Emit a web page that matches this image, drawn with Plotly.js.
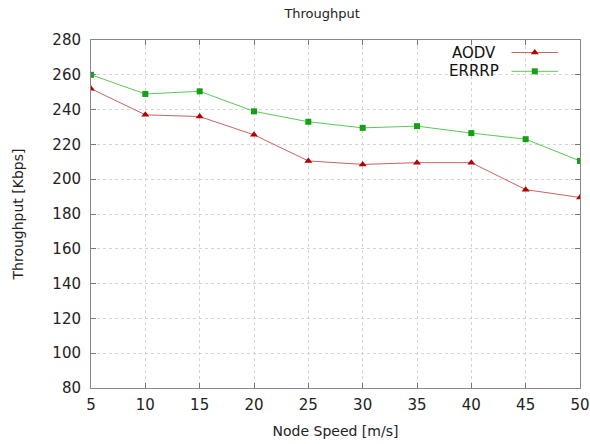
<!DOCTYPE html>
<html>
<head>
<meta charset="utf-8">
<script src="https://cdn.plot.ly/plotly-3.0.1.min.js"></script>
<style>html,body{margin:0;padding:0;background:#fff;}#chart{width:590px;height:444px;}</style>
</head>
<body>
<div id="chart"></div>
<script>
const speeds = [5, 10, 15, 20, 25, 30, 35, 40, 45, 50];
const aodv = [252, 237, 236, 225.5, 210.5, 208.5, 209.5, 209.5, 194, 189.5];
const errrp = [260, 249, 250.5, 239, 233, 229.5, 230.5, 226.5, 223, 210.5];
const seriesNames = ['AODV', 'ERRRP'];
const yTicks = [80, 100, 120, 140, 160, 180, 200, 220, 240, 260, 280];

const redLine = '#c86464', redMark = '#b40000';
const grnLine = '#5cc85c', grnMark = '#14a014';

const traces = [
  {x: speeds, y: aodv, name: seriesNames[0], mode: 'lines+markers',
   line: {color: redLine, width: 1}, marker: {symbol: 'triangle-up', size: 7, color: redMark}},
  {x: speeds, y: errrp, name: seriesNames[1], mode: 'lines+markers',
   line: {color: grnLine, width: 1}, marker: {symbol: 'square', size: 6, color: grnMark}},
  {x: [0.860, 0.955], y: [0.964, 0.964], xaxis: 'x2', yaxis: 'y2', mode: 'lines', showlegend: false,
   line: {color: redLine, width: 1}, hoverinfo: 'skip'},
  {x: [0.9075], y: [0.964], xaxis: 'x2', yaxis: 'y2', mode: 'markers', showlegend: false,
   marker: {symbol: 'triangle-up', size: 7, color: redMark}, hoverinfo: 'skip'},
  {x: [0.860, 0.955], y: [0.910, 0.910], xaxis: 'x2', yaxis: 'y2', mode: 'lines', showlegend: false,
   line: {color: grnLine, width: 1}, hoverinfo: 'skip'},
  {x: [0.9075], y: [0.910], xaxis: 'x2', yaxis: 'y2', mode: 'markers', showlegend: false,
   marker: {symbol: 'square', size: 6, color: grnMark}, hoverinfo: 'skip'}
];

const font = 'DejaVu Sans, sans-serif';
const txt = '#222';
const layout = {
  width: 590, height: 444,
  margin: {l: 91, r: 10, t: 40, b: 56},
  paper_bgcolor: '#fff', plot_bgcolor: '#fff',
  showlegend: false,
  font: {family: font, size: 14, color: txt},
  title: {text: 'Throughput', x: 0.546, xanchor: 'center', y: 0.97, yanchor: 'middle',
          font: {family: font, size: 13, color: txt}},
  xaxis: {range: [5, 50], tickvals: speeds, ticks: 'inside', ticklen: 5, tickcolor: '#777',
          showline: true, linecolor: '#888', linewidth: 1, mirror: 'ticks',
          showgrid: true, gridcolor: '#d4d4d4', griddash: 'dot', zeroline: false,
          ticklabelstandoff: 3,
          tickfont: {family: font, size: 15, color: txt},
          title: {text: 'Node Speed [m/s]', standoff: 13, font: {family: font, size: 14, color: txt}}},
  yaxis: {range: [80, 280], tickvals: yTicks, ticks: 'inside', ticklen: 5, tickcolor: '#777',
          showline: true, linecolor: '#888', linewidth: 1, mirror: 'ticks',
          showgrid: true, gridcolor: '#d4d4d4', griddash: 'dot', zeroline: false,
          ticklabelstandoff: 6,
          tickfont: {family: font, size: 15, color: txt},
          title: {text: 'Throughput [Kbps]', standoff: 25, font: {family: font, size: 14, color: txt}}},
  xaxis2: {overlaying: 'x', range: [0, 1], visible: false, fixedrange: true},
  yaxis2: {overlaying: 'y', range: [0, 1], visible: false, fixedrange: true},
  annotations: [
    {xref: 'paper', yref: 'paper', x: 0.832, y: 0.964, xanchor: 'right', yanchor: 'middle',
     text: seriesNames[0], showarrow: false, font: {family: font, size: 15, color: '#111'}},
    {xref: 'paper', yref: 'paper', x: 0.838, y: 0.910, xanchor: 'right', yanchor: 'middle',
     text: seriesNames[1], showarrow: false, font: {family: font, size: 15, color: '#111'}}
  ]
};
Plotly.newPlot('chart', traces, layout, {displayModeBar: false, staticPlot: true});
</script>
</body>
</html>
